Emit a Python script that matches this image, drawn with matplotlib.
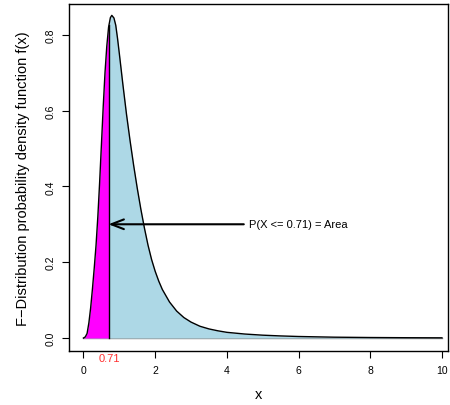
import matplotlib
matplotlib.use("Agg")
import matplotlib.pyplot as plt
import numpy as np

# density curve
x_vals = [0.0, 0.05, 0.1, 0.15, 0.2, 0.25, 0.3, 0.35, 0.4, 0.45, 0.5, 0.55, 0.6, 0.65,
          0.7, 0.75, 0.79, 0.85, 0.9, 0.95, 1.0, 1.1, 1.2, 1.3, 1.4, 1.5, 1.6, 1.7,
          1.8, 1.9, 2.0, 2.1, 2.2, 2.4, 2.6, 2.8, 3.0, 3.25, 3.5, 3.75, 4.0, 4.5,
          5.0, 5.5, 6.0, 7.0, 8.0, 9.0, 10.0]
f_vals = [0.0, 0.003, 0.012, 0.04, 0.08, 0.13, 0.185, 0.245, 0.32, 0.41, 0.51, 0.61, 0.70, 0.77,
          0.82, 0.845, 0.851, 0.844, 0.825, 0.79, 0.75, 0.668, 0.59, 0.52, 0.455, 0.395, 0.34, 0.29,
          0.245, 0.207, 0.176, 0.15, 0.128, 0.095, 0.071, 0.054, 0.042, 0.031, 0.024, 0.019, 0.015, 0.0105,
          0.0075, 0.0055, 0.004, 0.0022, 0.0013, 0.0008, 0.0005]
cutoff = 0.71
x_ticks = [0, 2, 4, 6, 8, 10]
y_ticks = [0.0, 0.2, 0.4, 0.6, 0.8]
label_txt = "P(X <= 0.71) = Area"

x = np.array(x_vals)
y = np.array(f_vals)
font = "Liberation Sans"

fig = plt.figure(figsize=(4.5, 4.06), dpi=100)
ax = fig.add_axes([0.154, 0.1337, 0.8416, 0.854])

ax.plot([0, 10], [0, 0], color="#888888", lw=1, zorder=1)
ax.fill_between(x, y, color="#ADD8E6", lw=0, zorder=2)
ax.plot(x, y, color="black", lw=1, zorder=4)

# left tail up to the cutoff
y_cut = np.interp(cutoff, x, y)
mask = x < cutoff
xl = np.concatenate([x[mask], [cutoff]])
yl = np.concatenate([y[mask], [y_cut]])
ax.fill_between(xl, yl, color="#FF00FF", lw=0, zorder=3)
ax.plot([cutoff, cutoff], [0, y_cut], color="black", lw=1, zorder=4)

ax.annotate("", xy=(0.62, 0.30), xytext=(4.55, 0.30),
            arrowprops=dict(arrowstyle="->,head_length=0.9,head_width=0.35",
                            color="black", lw=1.5), zorder=5)
ax.text(4.62, 0.30, label_txt, fontsize=8, va="center", ha="left", family=font)
ax.text(cutoff, -0.053, "0.71", color="#FF3030", fontsize=8, ha="center",
        va="center", family=font, clip_on=False)

ax.set_xlim(-0.396, 10.17)
ax.set_ylim(-0.0335, 0.881)
ax.set_xticks(x_ticks)
ax.set_xticklabels([str(t) for t in x_ticks])
ax.set_yticks(y_ticks)
ax.set_yticklabels([f"{t:.1f}" for t in y_ticks], rotation=90, va="center")
ax.tick_params(direction="out", length=5, labelsize=7.5, pad=5)
for lab in ax.get_xticklabels() + ax.get_yticklabels():
    lab.set_family(font)
for sp in ax.spines.values():
    sp.set_linewidth(1)

ax.set_xlabel("x", fontsize=10.5, family=font, labelpad=9)
ax.set_ylabel("F\u2212Distribution probability density function f(x)", fontsize=10.5,
              family=font, labelpad=11)

fig.savefig("out.png", dpi=100)
